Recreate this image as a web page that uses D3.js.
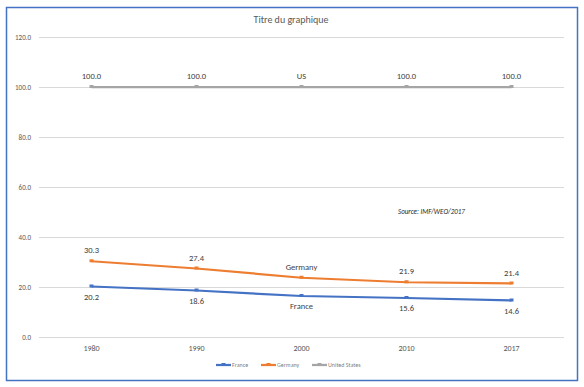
<!DOCTYPE html>
<meta charset="utf-8">
<style>
    body { margin: 0; background: white; }
    svg text { font-family: Calibri, "Liberation Sans", "DejaVu Sans", sans-serif; fill: #595959; }
</style>
<body>
<svg id="chart" width="584" height="387"></svg>
<script src="https://d3js.org/d3.v7.min.js"></script>
<script>
    const years = ["1980", "1990", "2000", "2010", "2017"];
    const france = [20.2, 18.6, 16.4, 15.6, 14.6];
    const germany = [30.3, 27.4, 23.7, 21.9, 21.4];
    const unitedStates = [100.0, 100.0, 100.0, 100.0, 100.0];
    const yTicks = [0, 20, 40, 60, 80, 100, 120];

    const series = [
        { name: "France", short: "France", values: france, color: "#4472c4", below: true },
        { name: "Germany", short: "Germany", values: germany, color: "#ed7d31", below: false },
        { name: "United States", short: "US", values: unitedStates, color: "#a5a5a5", below: false }
    ];

    const svg = d3.select("#chart");

    // chart frame
    svg.append("rect")
        .attr("x", 6.5).attr("y", 7.5)
        .attr("width", 571).attr("height", 373)
        .attr("fill", "white")
        .attr("stroke", "#4472c4")
        .attr("stroke-width", 1.5);

    const x = d3.scaleBand().domain(years).range([39, 564]);
    const y = d3.scaleLinear().domain([0, 120]).range([337, 37]);

    // grid
    svg.append("g").selectAll("line")
        .data(yTicks)
        .enter().append("line")
        .attr("x1", 39).attr("x2", 564)
        .attr("y1", d => Math.round(y(d)) + 0.5)
        .attr("y2", d => Math.round(y(d)) + 0.5)
        .attr("stroke", "#d9d9d9")
        .attr("stroke-width", 1);

    svg.append("g").selectAll("text")
        .data(yTicks)
        .enter().append("text")
        .attr("x", 31)
        .attr("y", d => y(d) + 2.5)
        .attr("text-anchor", "end")
        .attr("font-size", "7px")
        .text(d => d.toFixed(1));

    svg.append("g").selectAll("text")
        .data(years)
        .enter().append("text")
        .attr("x", d => x(d) + x.bandwidth() / 2)
        .attr("y", 351)
        .attr("text-anchor", "middle")
        .attr("font-size", "8px")
        .text(d => d);

    svg.append("text")
        .attr("x", 291).attr("y", 23)
        .attr("text-anchor", "middle")
        .attr("font-size", "10px")
        .text("Titre du graphique");

    svg.append("text")
        .attr("x", 398).attr("y", 214)
        .attr("font-size", "7px")
        .attr("font-style", "italic")
        .style("fill", "#262626")
        .text("Source: IMF/WEO/2017");

    const line = d3.line()
        .x((d, i) => x(years[i]) + x.bandwidth() / 2)
        .y(d => y(d));

    series.forEach(s => {
        const g = svg.append("g");
        g.append("path")
            .datum(s.values)
            .attr("d", line)
            .attr("fill", "none")
            .attr("stroke", s.color)
            .attr("stroke-width", 2.25);

        g.selectAll("rect")
            .data(s.values)
            .enter().append("rect")
            .attr("x", (d, i) => x(years[i]) + x.bandwidth() / 2 - 2)
            .attr("y", d => y(d) - 2)
            .attr("width", 4).attr("height", 3)
            .attr("fill", s.color);

        g.selectAll("text")
            .data(s.values)
            .enter().append("text")
            .attr("x", (d, i) => x(years[i]) + x.bandwidth() / 2)
            .attr("y", d => s.below ? y(d) + 13 : y(d) - 8)
            .attr("text-anchor", "middle")
            .attr("font-size", "8.5px")
            .style("fill", "#404040")
            .text((d, i) => i === 2 ? s.short : d.toFixed(1));
    });

    // legend
    const legendX = [216, 261, 312];
    const legend = svg.append("g").selectAll("g")
        .data(series)
        .enter().append("g")
        .attr("transform", (d, i) => `translate(${legendX[i]},365)`);
    legend.append("line")
        .attr("x1", 0).attr("x2", 15)
        .attr("stroke", d => d.color)
        .attr("stroke-width", 2.25);
    legend.append("rect")
        .attr("x", 5.5).attr("y", -2).attr("width", 4).attr("height", 3)
        .attr("fill", d => d.color);
    legend.append("text")
        .attr("x", 16).attr("y", 2.2)
        .attr("font-size", "6px")
        .attr("fill-opacity", 0.8)
        .text(d => d.name);
</script>
</body>
